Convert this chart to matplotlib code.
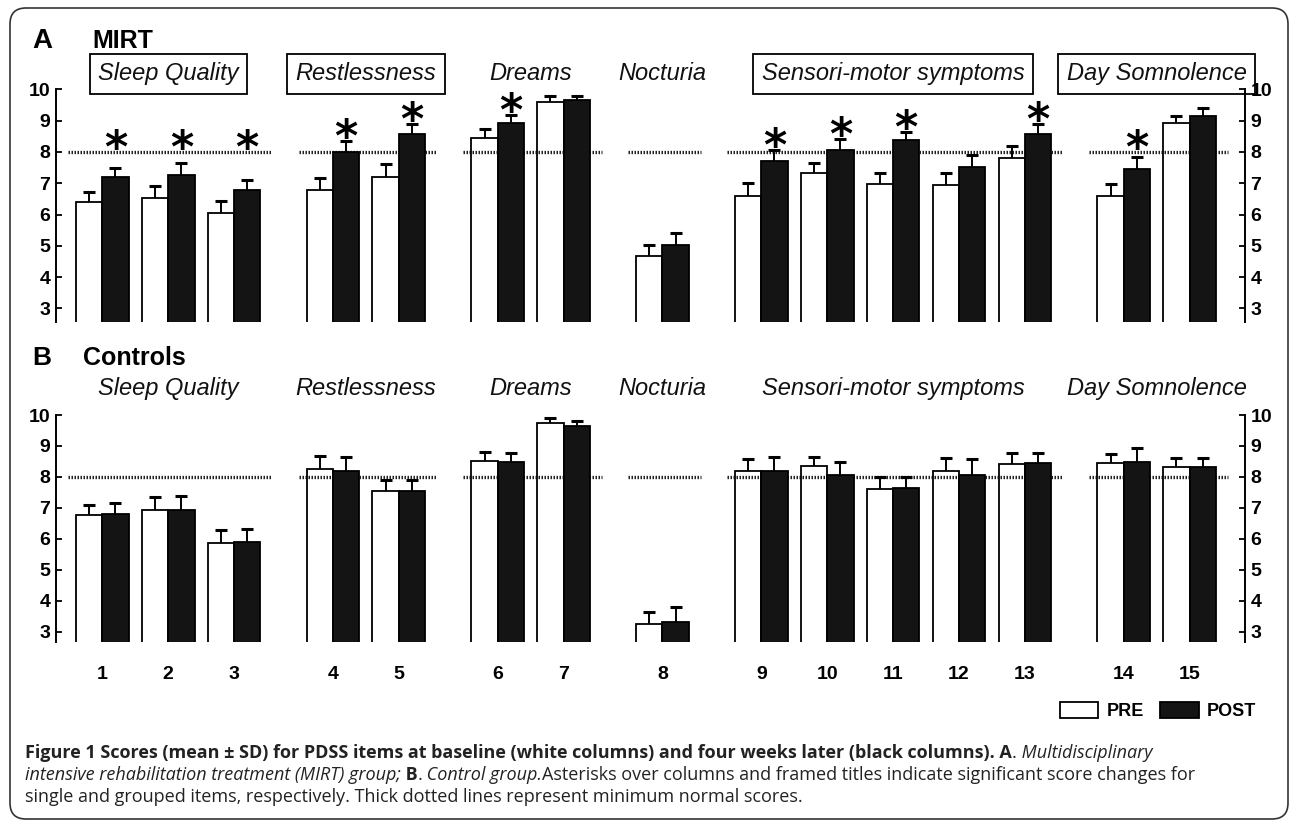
import matplotlib
matplotlib.use("Agg")
import matplotlib.pyplot as plt
from matplotlib.patches import FancyBboxPatch, Patch
from matplotlib.transforms import IdentityTransform

plt.rcParams["font.family"] = ["Liberation Sans", "DejaVu Sans"]

# ---- data ----
items = list(range(1, 16))
groups = ["Sleep Quality", "Restlessness", "Dreams", "Nocturia",
          "Sensori-motor symptoms", "Day Somnolence"]
group_sizes = [3, 2, 2, 1, 5, 2]
mirt_framed = [True, True, False, False, True, True]

mirt_pre = [6.40, 6.53, 6.06, 6.77, 7.21, 8.45, 9.61, 4.68, 6.60, 7.32, 6.99, 6.93, 7.82, 6.58, 8.91]
mirt_pre_sd = [0.33, 0.39, 0.37, 0.39, 0.39, 0.28, 0.18, 0.36, 0.42, 0.33, 0.35, 0.41, 0.38, 0.41, 0.24]
mirt_post = [7.19, 7.27, 6.77, 8.01, 8.56, 8.91, 9.65, 5.03, 7.71, 8.05, 8.37, 7.53, 8.57, 7.44, 9.15]
mirt_post_sd = [0.31, 0.37, 0.34, 0.33, 0.32, 0.26, 0.14, 0.39, 0.35, 0.35, 0.28, 0.37, 0.31, 0.39, 0.24]
mirt_signif = [1, 2, 3, 4, 5, 6, 9, 10, 11, 13, 14]

ctrl_pre = [6.77, 6.92, 5.88, 8.27, 7.56, 8.52, 9.73, 3.27, 8.19, 8.34, 7.60, 8.19, 8.41, 8.45, 8.31]
ctrl_pre_sd = [0.32, 0.45, 0.41, 0.42, 0.35, 0.30, 0.16, 0.39, 0.39, 0.31, 0.40, 0.41, 0.37, 0.29, 0.31]
ctrl_post = [6.82, 6.92, 5.90, 8.20, 7.56, 8.48, 9.65, 3.32, 8.18, 8.08, 7.65, 8.08, 8.44, 8.48, 8.33]
ctrl_post_sd = [0.33, 0.46, 0.43, 0.43, 0.35, 0.30, 0.17, 0.47, 0.46, 0.40, 0.35, 0.51, 0.34, 0.44, 0.29]
ctrl_signif = []
ctrl_framed = [False] * 6

normal_min = 8

W, H = 1292, 822
POST_COLOR = "#141414"

# x position of each item: half a slot extra gap between groups
group_of = []
for g, n in enumerate(group_sizes):
    group_of += [g] * n
xpos = [i + 0.5 * g for i, g in enumerate(group_of)]

fig = plt.figure(figsize=(W / 100, H / 100), dpi=100)


def panel(top_px, bottom_px, ymin, pre, pre_sd, post, post_sd, signif, framed, title_y):
    ax = fig.add_axes([56 / W, 1 - bottom_px / H, (1245 - 56) / W, (bottom_px - top_px) / H])
    bw = 0.4
    xpre = [x - bw / 2 for x in xpos]
    xpost = [x + bw / 2 for x in xpos]
    ax.bar(xpre, pre, bw, facecolor="none", edgecolor="black", lw=1.3, zorder=3)
    ax.bar(xpost, post, bw, facecolor=POST_COLOR, edgecolor="black", lw=1.3, zorder=3)
    for xs, ys, sd in [(xpre, pre, pre_sd), (xpost, post, post_sd)]:
        eb = ax.errorbar(xs, ys, yerr=[[0] * len(sd), sd], fmt="none", ecolor="black",
                         elinewidth=1.4, capsize=4.5, capthick=2.2, zorder=4)
        eb[1][0].set_visible(False)

    # dotted "minimum normal" line per group
    start = 0
    for g, n in enumerate(group_sizes):
        x0 = xpos[start] - 0.52
        x1 = xpos[start + n - 1] + 0.58
        ax.plot([x0, x1], [normal_min, normal_min], color="#222222", lw=2.4,
                linestyle=(0, (0.45, 0.45)), zorder=2, solid_capstyle="butt")
        gx = (xpos[start] + xpos[start + n - 1]) / 2
        kw = dict(ha="center", va="center", fontsize=17, fontstyle="italic", color="#111111")
        if framed[g]:
            kw["bbox"] = dict(boxstyle="square,pad=0.35", fc="none", ec="black", lw=1.3)
        ax.text(gx, title_y, groups[g], **kw)
        start += n

    for it in signif:
        i = it - 1
        ytop = max(post[i] + post_sd[i], normal_min)
        ax.text(xpost[i], ytop - 0.32, "*", ha="center", va="baseline", fontsize=32,
                fontweight="bold", family="DejaVu Sans", zorder=5)

    ax.set_xlim(-0.7026, 17.34)
    ax.set_ylim(ymin, 10)
    ax.set_yticks(range(3, 11))
    ax.tick_params(axis="y", direction="in", length=4, width=1.3, left=True, right=True,
                   labelleft=True, labelright=True, labelsize=14, pad=4)
    for lbl in ax.get_yticklabels():
        lbl.set_fontweight("bold")
    for s in ["top", "bottom"]:
        ax.spines[s].set_visible(False)
    for s in ["left", "right"]:
        ax.spines[s].set_linewidth(1.4)
    ax.set_facecolor("none")
    return ax


axA = panel(89.3, 322.3, 2.556, mirt_pre, mirt_pre_sd, mirt_post, mirt_post_sd,
            mirt_signif, mirt_framed, 10.49)
axA.set_xticks([])

axB = panel(415, 642.3, 2.667, ctrl_pre, ctrl_pre_sd, ctrl_post, ctrl_post_sd,
            ctrl_signif, ctrl_framed, 10.87)
axB.set_xticks(xpos)
axB.set_xticklabels([str(i) for i in items], fontweight="bold", fontsize=14)
axB.tick_params(axis="x", length=0, pad=17)

# panel letters and titles
fig.text(32 / W, 1 - 48 / H, "A", fontsize=20, fontweight="bold", va="baseline")
fig.text(92 / W, 1 - 48 / H, "MIRT", fontsize=18, fontweight="bold", va="baseline")
fig.text(32 / W, 1 - 365 / H, "B", fontsize=19, fontweight="bold", va="baseline")
fig.text(83 / W, 1 - 365 / H, "Controls", fontsize=18, fontweight="bold", va="baseline")

# legend
handles = [Patch(facecolor="white", edgecolor="black", lw=1.3),
           Patch(facecolor=POST_COLOR, edgecolor="black", lw=1.3)]
fig.legend(handles, ["PRE", "POST"], loc="center", bbox_to_anchor=(1158 / W, 1 - 711 / H),
           ncol=2, frameon=False, prop={"weight": "bold", "size": 13},
           handlelength=2.15, handleheight=1.0, handletextpad=0.45, columnspacing=0.9)

# caption with mixed styles
caption = [
    (758, [("Figure 1 Scores (mean \u00b1 SD) for PDSS items at baseline (white columns) and four weeks later (black columns). A", "bold", "normal"),
           (".", "normal", "normal"),
           (" Multidisciplinary", "normal", "italic")]),
    (780, [("intensive rehabilitation treatment (MIRT) group;", "normal", "italic"),
           (" B", "bold", "normal"),
           (".", "normal", "normal"),
           (" Control group.", "normal", "italic"),
           ("Asterisks over columns and framed titles indicate significant score changes for", "normal", "normal")]),
    (802, [("single and grouped items, respectively. Thick dotted lines represent minimum normal scores.", "normal", "normal")]),
]
renderer = fig.canvas.get_renderer()
for y_px, parts in caption:
    x = 25
    for txt, weight, style in parts:
        t = fig.text(x / W, 1 - y_px / H, txt, fontsize=13, family=["Open Sans", "DejaVu Sans"],
                     fontweight=weight, fontstyle=style, va="baseline", ha="left", color="#222222")
        x = t.get_window_extent(renderer).x1

# rounded frame around the whole figure
frame = FancyBboxPatch((10, 3), 1278, 811, boxstyle="round,pad=0,rounding_size=16",
                       transform=IdentityTransform(), fc="none", ec="#333333", lw=1.2)
fig.patches.append(frame)

fig.savefig("out.png", dpi=100)
